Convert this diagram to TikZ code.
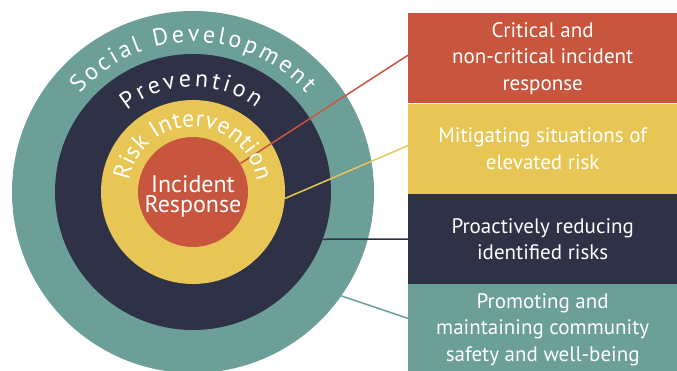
\documentclass[tikz,border=0pt]{standalone}
\usepackage{fontspec}
\setmainfont{PT Sans}
\usetikzlibrary{positioning}
\usetikzlibrary{decorations.text}

\definecolor{sdteal}{HTML}{6B9F98}
\definecolor{pvnavy}{HTML}{2F3146}
\definecolor{riyellow}{HTML}{E8C656}
\definecolor{irred}{HTML}{C8563E}

\newcommand{\boxfont}{\fontsize{21}{26.5}\selectfont}
\newcommand{\ringfont}{\fontsize{24}{24}\selectfont\color{white}}

\tikzset{disc/.style={circle, inner sep=0pt, draw=none}}
\tikzset{band/.style={rectangle, inner sep=0pt, minimum width=269pt,
    minimum height=90pt, text=white, align=center, font=\boxfont}}
\tikzset{link/.style={line width=1.5pt}}
\tikzset{ringtext/.style={decorate, decoration={text along path,
    text={|\ringfont|#1}, text align={fit to path}}}}

\begin{document}
\begin{tikzpicture}[x=1pt, y=1pt]
      \useasboundingbox (0,0) rectangle (677,370);
      \clip (0,0) rectangle (677,370);
      \coordinate (ctr) at (193,178);

      \node[disc, fill=sdteal, minimum size=362pt] (socdev) at (ctr) {};
      \node[disc, fill=pvnavy, minimum size=276pt] (prev) at (ctr) {};
      \node[disc, fill=riyellow, minimum size=184pt] (risk) at (ctr) {};
      \node[disc, fill=irred, minimum size=110pt] (incid) at (ctr) {};

      \node[band, fill=irred, anchor=north west] (crit) at (408,357)
      {Critical and\\non-critical incident\\response};
      \node[band, fill=riyellow, below=0pt of crit] (mitig)
      {Mitigating situations of\\elevated risk};
      \node[band, fill=pvnavy, below=0pt of mitig] (proact)
      {Proactively reducing\\identified risks};
      \node[band, fill=sdteal, below=0pt of proact] (promo)
      {Promoting and\\maintaining community\\safety and well-being};

      \draw[link, irred] (incid.31) -- ([yshift=3pt]crit.west);
      \draw[link, riyellow] (risk.-4) -- ([yshift=3pt]mitig.west);
      \draw[link, pvnavy] (prev.-20) -- (proact.west);
      \draw[link, sdteal] (socdev.-35) -- ([yshift=11pt]promo.west);

      \path[ringtext={Social Development}]
      (ctr) ++(139:150) arc[start angle=139, end angle=41, radius=150];
      \path[ringtext={Prevention}]
      (ctr) ++(129:105) arc[start angle=129, end angle=53, radius=105];
      \path[ringtext={Risk Intervention}]
      (ctr) ++(170:65) arc[start angle=170, end angle=10, radius=65];

      \node[text=white, align=center, font=\fontsize{24}{20}\selectfont]
      (irlabel) at ([yshift=-4pt]ctr) {Incident\\Response};
    \end{tikzpicture}
\end{document}
